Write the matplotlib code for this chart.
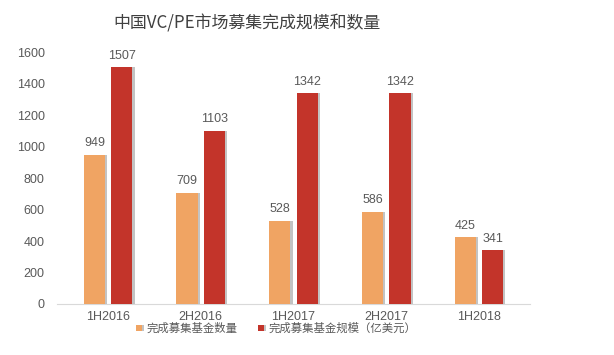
import matplotlib
matplotlib.use("Agg")
import matplotlib.pyplot as plt
import matplotlib.patheffects as pe
import numpy as np

plt.rcParams['font.family'] = ['Liberation Sans', 'Noto Sans CJK SC', 'DejaVu Sans']

categories = ["1H2016", "2H2016", "1H2017", "2H2017", "1H2018"]
fund_count = [949, 709, 528, 586, 425]
fund_size = [1507, 1103, 1342, 1342, 341]
series_names = ["完成募集基金数量", "完成募集基金规模（亿美元）"]
title = "中国VC/PE市场募集完成规模和数量"

c_orange = "#F0A463"
c_red = "#C3342A"
txt = "#595959"

fig = plt.figure(figsize=(6.14, 3.55), dpi=100)
ax = fig.add_axes([0.093, 0.144, 0.770, 0.708])

x = np.arange(len(categories))
w = 0.23
gap = 0.065
off = (w + gap) / 2
b1 = ax.bar(x - off, fund_count, w, color=c_orange, label=series_names[0], zorder=3)
b2 = ax.bar(x + off, fund_size, w, color=c_red, label=series_names[1], zorder=3)
for bars in (b1, b2):
    for b in bars:
        b.set_path_effects([pe.SimplePatchShadow(offset=(1.5, 0), shadow_rgbFace="#888888", alpha=0.5), pe.Normal()])

for bars, vals in ((b1, fund_count), (b2, fund_size)):
    for b, v in zip(bars, vals):
        ax.text(b.get_x() + b.get_width() / 2, v + 35, str(v), ha="center", va="bottom",
                fontsize=9, color=txt)

ax.set_xlim(-0.55, len(categories) - 0.45)
ax.set_ylim(0, 1600)
ax.set_yticks(range(0, 1601, 200))
ax.set_xticks(x)
ax.set_xticklabels(categories)
ax.tick_params(axis="both", length=0, labelsize=9, colors=txt)
ax.tick_params(axis="x", pad=5)
ax.tick_params(axis="y", pad=9)
for s in ["top", "right", "left"]:
    ax.spines[s].set_visible(False)
ax.spines["bottom"].set_color("#D9D9D9")

fig.text(0.402, 0.935, title, family=['Noto Sans CJK SC', 'DejaVu Sans'],
         ha="center", va="center", fontsize=12.2, color="#404040")

leg = fig.legend(handles=[b1, b2], loc="center", bbox_to_anchor=(0.45, 0.075), ncol=2,
                 frameon=False, fontsize=8.2, handlelength=0.5, handleheight=0.5,
                 handletextpad=0.4, columnspacing=1.8)
for t in leg.get_texts():
    t.set_color(txt)

fig.savefig("out.png", dpi=100)
